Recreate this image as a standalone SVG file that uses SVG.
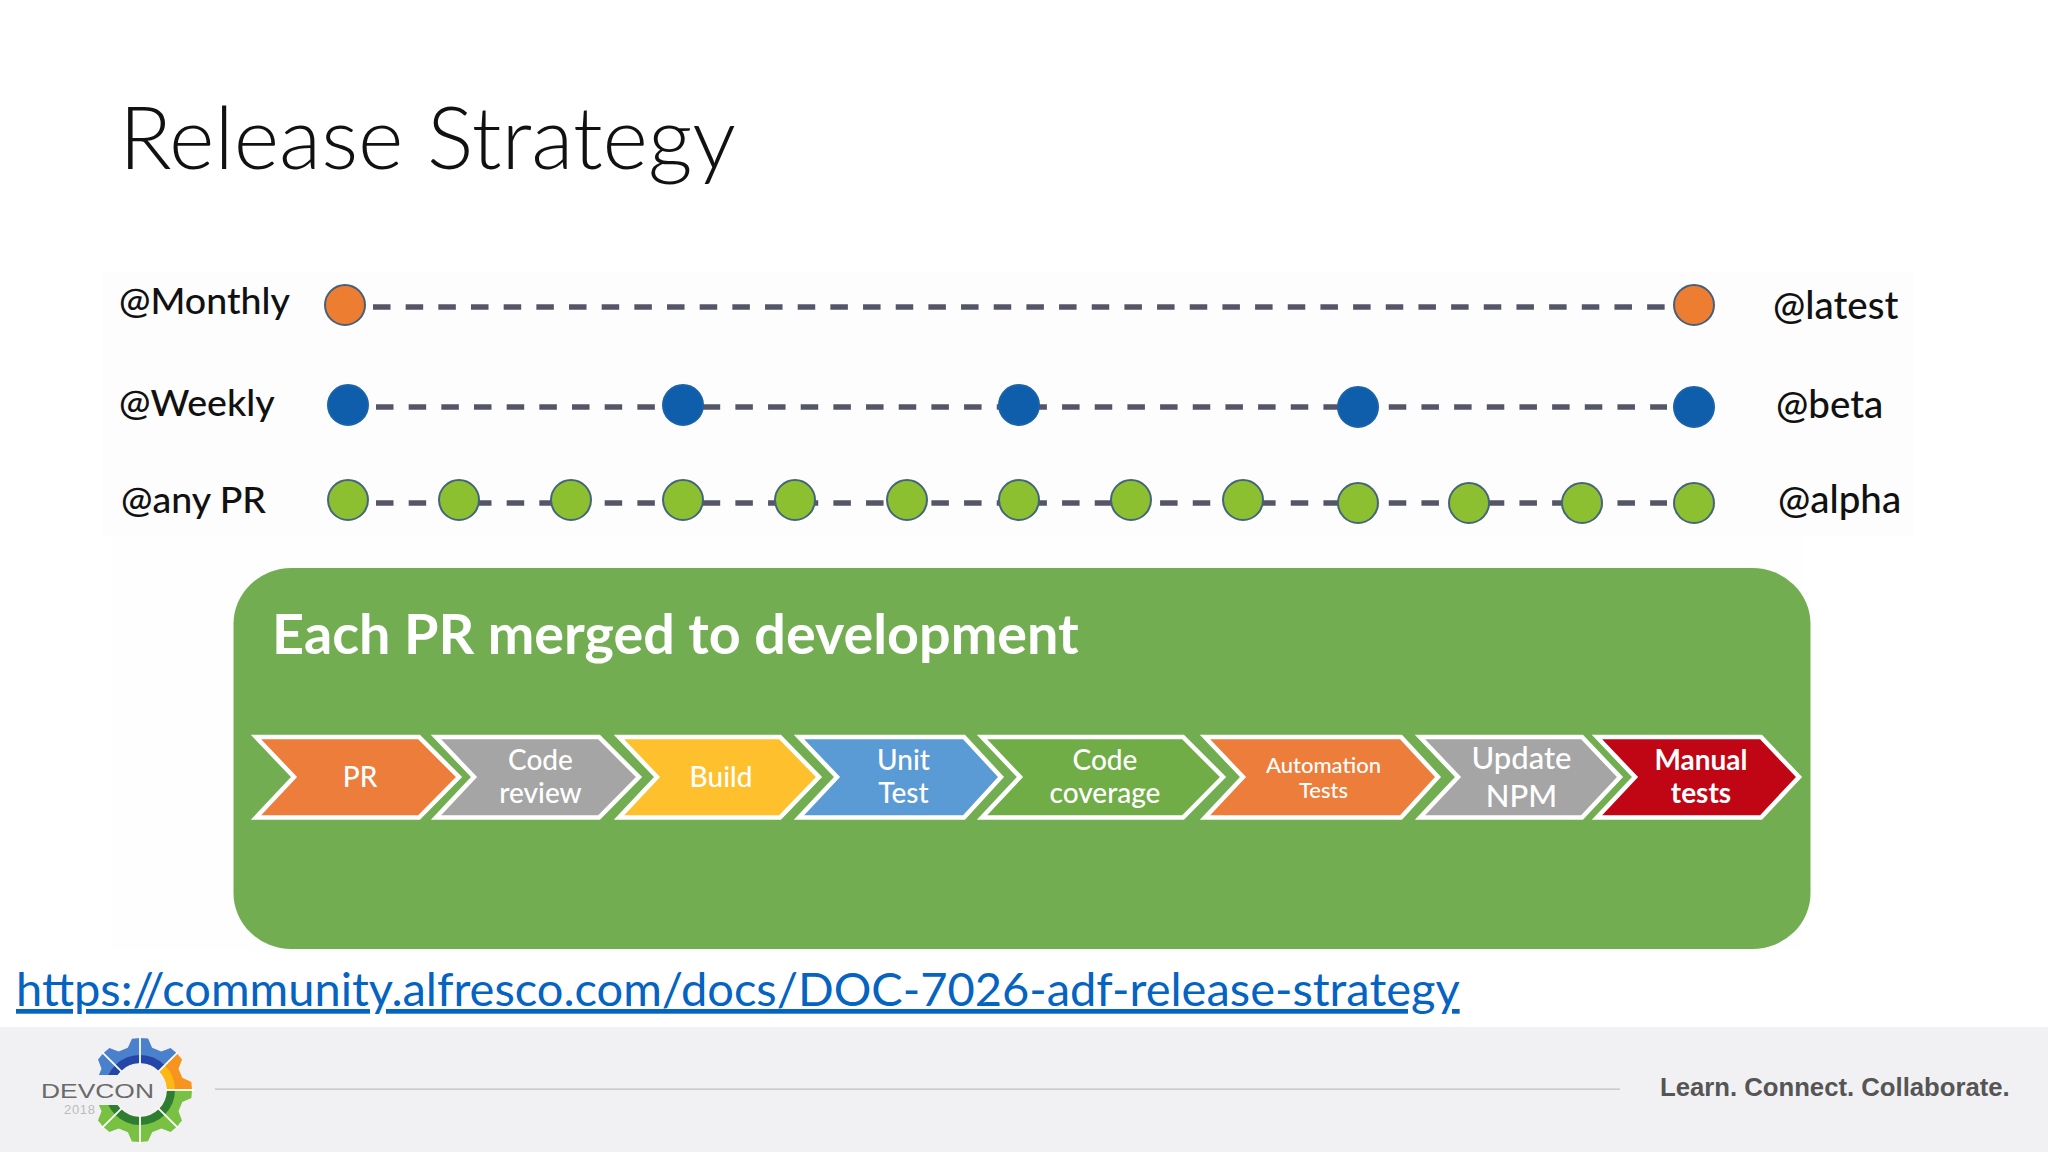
<svg xmlns="http://www.w3.org/2000/svg" width="2048" height="1152" viewBox="0 0 2048 1152">
<style>
text{font-family:"Lato","Carlito","Open Sans",sans-serif}
.lab{font-size:37.500px;fill:#111;font-weight:500}
.dash{fill:none;stroke:#555568;stroke-width:5.5;stroke-dasharray:17.5 15.17}
.or{fill:#ED7D31;stroke:#46607A;stroke-width:2}
.bl{fill:#0F5EAB;stroke:#1A62AA;stroke-width:2}
.gr{fill:#8CC031;stroke:#46657A;stroke-width:2}
.chev{stroke:#fff;stroke-width:4.5;stroke-linejoin:miter;stroke-miterlimit:8}
.ct{font-size:28px;fill:#fff;text-anchor:middle;font-weight:500}
.sep{stroke:#fff;stroke-width:1.8;fill:none}
</style>
<defs>
<path id="wedge" d="M52 0L51.400 8.100L42.300 12.100L38.500 21.300L42 30.600L36.800 36.800L19.100 19.100A27 27 0 0 0 27 0Z"/>
<path id="ring" d="M35 0A35 35 0 0 1 24.700 24.700L19.100 19.100A27 27 0 0 0 27 0Z"/>
<path id="sepline" d="M26 0H54"/>
<clipPath id="cutB"><rect x="-60" y="15" width="120" height="50"/></clipPath>
<clipPath id="cutT"><rect x="-60" y="-60" width="120" height="45"/></clipPath>
</defs>
<rect width="2048" height="1152" fill="#fff"/>
<rect x="102" y="272" width="1812" height="264" fill="#fdfdfd"/>
<rect x="112" y="536" width="1690" height="414" fill="#fefefe"/>
<text id="title" x="119" y="169" font-size="87" font-weight="300" fill="#111">Release Strategy</text>

<g id="connectors">
<path class="dash" d="M373 307H1666"/>
<path class="dash" d="M376 407H1667"/>
<path class="dash" d="M376 503H1667"/>
</g>

<g id="row-monthly">
<text class="lab" x="119" y="314">@Monthly</text>
<ellipse class="or" cx="345" cy="305" rx="20" ry="20"/>
<ellipse class="or" cx="1694" cy="305" rx="20" ry="20"/>
<text class="lab" x="1773" y="319" style="font-size:38.500px">@latest</text>
</g>
<g id="row-weekly">
<text class="lab" x="119" y="416">@Weekly</text>
<ellipse class="bl" cx="348" cy="405" rx="20" ry="20"/>
<ellipse class="bl" cx="683" cy="405" rx="20" ry="20"/>
<ellipse class="bl" cx="1019" cy="405" rx="20" ry="20"/>
<ellipse class="bl" cx="1358" cy="407" rx="20" ry="20"/>
<ellipse class="bl" cx="1694" cy="407" rx="20" ry="20"/>
<text class="lab" x="1776" y="418" style="font-size:38.500px">@beta</text>
</g>
<g id="row-pr">
<text class="lab" x="121" y="513">@any PR</text>
<ellipse class="gr" cx="348" cy="500" rx="20" ry="20"/>
<ellipse class="gr" cx="459" cy="500" rx="20" ry="20"/>
<ellipse class="gr" cx="571" cy="500" rx="20" ry="20"/>
<ellipse class="gr" cx="683" cy="500" rx="20" ry="20"/>
<ellipse class="gr" cx="795" cy="500" rx="20" ry="20"/>
<ellipse class="gr" cx="907" cy="500" rx="20" ry="20"/>
<ellipse class="gr" cx="1019" cy="500" rx="20" ry="20"/>
<ellipse class="gr" cx="1131" cy="500" rx="20" ry="20"/>
<ellipse class="gr" cx="1243" cy="500" rx="20" ry="20"/>
<ellipse class="gr" cx="1358" cy="503" rx="20" ry="20"/>
<ellipse class="gr" cx="1469" cy="503" rx="20" ry="20"/>
<ellipse class="gr" cx="1582" cy="503" rx="20" ry="20"/>
<ellipse class="gr" cx="1694" cy="503" rx="20" ry="20"/>
<text class="lab" x="1778" y="513" style="font-size:38.500px">@alpha</text>
</g>

<g id="panel">
<rect x="233.500" y="568" width="1577" height="381" rx="58" ry="56" fill="#72AD51"/>
<text x="272" y="654" font-size="55.700" font-weight="700" fill="#fff">Each PR merged to development</text>
</g>

<g id="step-pr"><polygon class="chev" fill="#ED7D3B" points="256,737 419,737 459,777 419,817.500 256,817.500 294,777"/><text class="ct" x="360" y="787">PR</text></g>
<g id="step-code-review"><polygon class="chev" fill="#A5A5A5" points="436,737 599,737 639,777 599,817.500 436,817.500 474,777"/><text class="ct" x="540.500" y="770">Code</text><text class="ct" x="540.500" y="803">review</text></g>
<g id="step-build"><polygon class="chev" fill="#FFC02E" points="619,737 780,737 819,777 780,817.500 619,817.500 657,777"/><text class="ct" x="721" y="787">Build</text></g>
<g id="step-unit-test"><polygon class="chev" fill="#5B9BD5" points="799,737 964,737 1001,777 964,817.500 799,817.500 837,777"/><text class="ct" x="903.500" y="770">Unit</text><text class="ct" x="903.500" y="803">Test</text></g>
<g id="step-coverage"><polygon class="chev" fill="#70AD47" points="982,737 1183,737 1223,777 1183,817.500 982,817.500 1020,777"/><text class="ct" x="1105" y="770">Code</text><text class="ct" x="1105" y="803">coverage</text></g>
<g id="step-automation"><polygon class="chev" fill="#ED7D3B" points="1205,737 1401,737 1438,777 1401,817.500 1205,817.500 1243,777"/><text class="ct" style="font-size:22px" x="1323.500" y="773">Automation</text><text class="ct" style="font-size:22px" x="1323.500" y="798">Tests</text></g>
<g id="step-npm"><polygon class="chev" fill="#A5A5A5" points="1420,737 1582,737 1620,777 1582,817.500 1420,817.500 1458,777"/><text class="ct" style="font-size:31px" x="1521.500" y="769">Update</text><text class="ct" style="font-size:31px" x="1521.500" y="807">NPM</text></g>
<g id="step-manual"><polygon class="chev" fill="#C00514" points="1597,737 1761,737 1799,777 1761,817.500 1597,817.500 1635,777"/><text class="ct" style="font-weight:700" x="1701" y="770">Manual</text><text class="ct" style="font-weight:700" x="1701" y="803">tests</text></g>

<text id="link" x="16" y="1006" font-size="47" fill="#0563C1" text-decoration="underline">https://community.alfresco.com/docs/DOC-7026-adf-release-strategy</text>

<g id="footer">
<rect x="0" y="1027" width="2048" height="125" fill="#F1F1F3"/>
<rect x="215" y="1088.500" width="1405" height="1.200" fill="#BDBDBD"/>
<text x="1660" y="1096" style="font-family:'Liberation Sans',Arial,sans-serif" font-size="25.700" font-weight="700" fill="#555">Learn. Connect. Collaborate.</text>
<g id="logo">
<g transform="translate(140 1090)">
<g fill="#4A80CC"><use href="#wedge" transform="rotate(-90)"/><use href="#wedge" transform="rotate(-135)"/></g>
<g fill="#2446A6"><use href="#ring" transform="rotate(-90)"/><use href="#ring" transform="rotate(-135)"/></g>
<use href="#wedge" fill="#F7941D" transform="rotate(-45)"/><use href="#ring" fill="#FDB813" transform="rotate(-45)"/>
<g fill="#79C142"><use href="#wedge"/><use href="#wedge" transform="rotate(45)"/><use href="#wedge" transform="rotate(90)"/></g>
<g fill="#2F7D32"><use href="#ring"/><use href="#ring" transform="rotate(45)"/><use href="#ring" transform="rotate(90)"/></g>
<g clip-path="url(#cutB)"><use href="#wedge" fill="#79C142" transform="rotate(135)"/><use href="#ring" fill="#2F7D32" transform="rotate(135)"/></g>
<g clip-path="url(#cutT)"><use href="#wedge" fill="#4A80CC" transform="rotate(180)"/><use href="#ring" fill="#2446A6" transform="rotate(180)"/></g>
<g class="sep"><use href="#sepline" transform="rotate(-135)"/><use href="#sepline" transform="rotate(-90)"/><use href="#sepline" transform="rotate(-45)"/><use href="#sepline"/><use href="#sepline" transform="rotate(45)"/><use href="#sepline" transform="rotate(90)"/><use href="#sepline" transform="rotate(135)"/></g>
</g>
<text x="41" y="1098" style="font-family:'Liberation Sans',sans-serif" font-size="20" fill="#6A6A6A" textLength="113" lengthAdjust="spacingAndGlyphs">DEVCON</text>
<text x="64" y="1114" style="font-family:'Liberation Sans',sans-serif" font-size="13" fill="#BBBBBB" textLength="31">2018</text>
</g>
</g>
</svg>
